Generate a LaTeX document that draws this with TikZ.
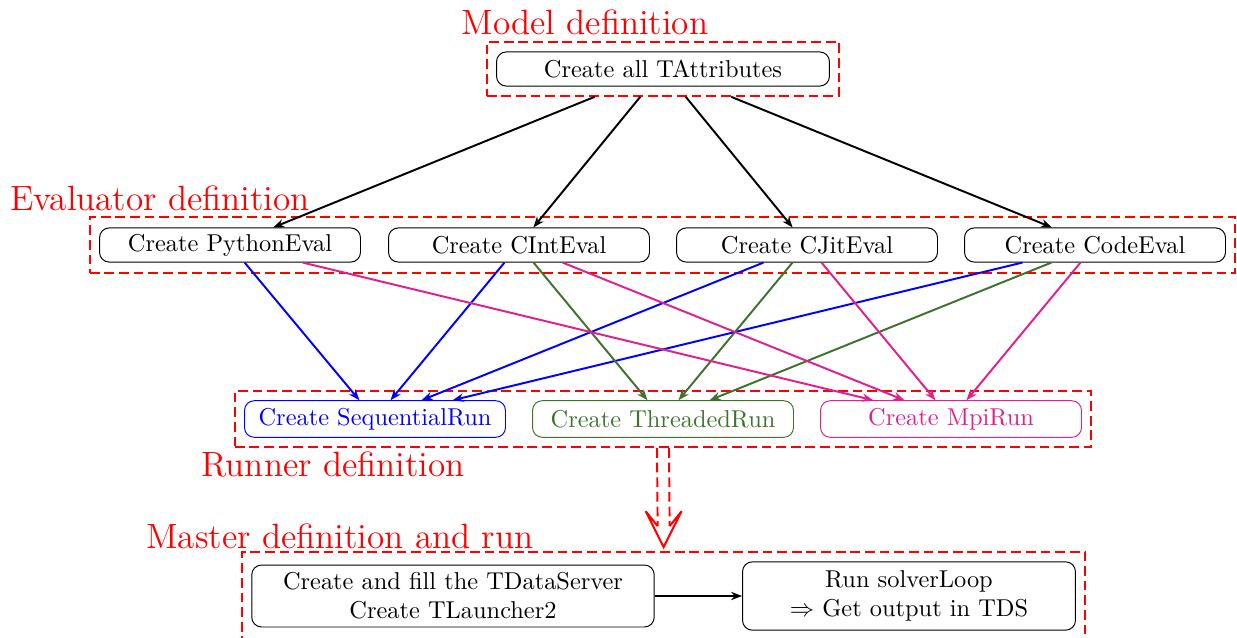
\documentclass[tikz,border=0pt]{standalone}
\usetikzlibrary{arrows.meta,fit,calc}
\definecolor{thrgreen}{RGB}{63,114,45}
\definecolor{mpimag}{RGB}{224,32,140}
\begin{document}
\begin{tikzpicture}[x=0.41pt,y=-0.41pt,
  stage/.style={draw, rounded corners=4pt, minimum height=14pt, inner ysep=1pt, align=center},
  evalbox/.style={stage, minimum width=107pt},
  runbox/.style={stage, minimum width=107pt, minimum height=15pt},
  groupbox/.style={draw=red, thick, dash pattern=on 4pt off 2pt, inner xsep=3.8pt, inner ysep=3.8pt},
  grouplabel/.style={text=red, font=\Large, inner sep=0pt},
  link/.style={thick, -{Stealth[length=4.5pt,width=3.4pt]}},
]
\useasboundingbox (0,0) rectangle (1237,637);

% model definition
\node[stage, minimum width=136.5pt] (attr) at (663,69) {Create all TAttributes};
\node[groupbox, fit=(attr)] (mfit) {};
\node[grouplabel] at (585,22) {Model definition};

% evaluator definition
\node[evalbox] (py)   at (230,245)  {Create PythonEval};
\node[evalbox] (cint) at (519,245)  {Create CIntEval};
\node[evalbox] (cjit) at (807,245)  {Create CJitEval};
\node[evalbox] (code) at (1095,245) {Create CodeEval};
\node[groupbox, fit=(py)(code), inner ysep=4.4pt] (efit) {};
\node[grouplabel] at (160,198) {Evaluator definition};

% runner definition
\node[runbox, draw=blue, text=blue] (seq) at (375,419) {Create SequentialRun};
\node[runbox, draw=thrgreen, text=thrgreen] (thr) at (663,419) {Create ThreadedRun};
\node[runbox, draw=mpimag, text=mpimag] (mpi) at (951,419) {Create MpiRun};
\node[groupbox, fit=(seq)(mpi)] (rfit) {};
\node[grouplabel] at (333,464) {Runner definition};

% master definition and run
\node[stage, minimum width=165pt, minimum height=25.4pt] (tds) at (453,596)
  {Create and fill the TDataServer\\Create TLauncher2};
\node[stage, minimum width=136.5pt, minimum height=28pt] (loop) at (909,596)
  {Run solverLoop\\$\Rightarrow$ Get output in TDS};
\node[groupbox, fit=(tds)(loop)] (sfit) {};
\node[grouplabel] at (340,536) {Master definition and run};

% model to evaluators
\foreach \e in {py,cint,cjit,code}
  \draw[link] (mfit) -- (\e);

% evaluators to runners
\foreach \e in {py,cint,cjit,code}
  \draw[link, blue] (\e) -- (seq);
\foreach \e in {cint,cjit,code}
  \draw[link, thrgreen] (\e) -- (thr);
\foreach \e in {py,cint,cjit,code}
  \draw[link, mpimag] (\e) -- (mpi);

% master step
\draw[link] (tds) -- (loop);

% hollow double arrow from runners to master
\coordinate (tip) at ($(sfit.north)+(0,-4)$);
\draw[red, thick, dash pattern=on 4pt off 2pt]
  ($(rfit.south)+(-6,0)$) -- ($(tip)+(-6,-21)$)
  ($(rfit.south)+(6,0)$) -- ($(tip)+(6,-21)$);
\draw[red, thick, line join=miter, miter limit=2.5]
  ($(tip)+(-6,-21)$) -- ($(tip)+(-18,-36)$) -- (tip)
  -- ($(tip)+(18,-36)$) -- ($(tip)+(6,-21)$);
\end{tikzpicture}
\end{document}
